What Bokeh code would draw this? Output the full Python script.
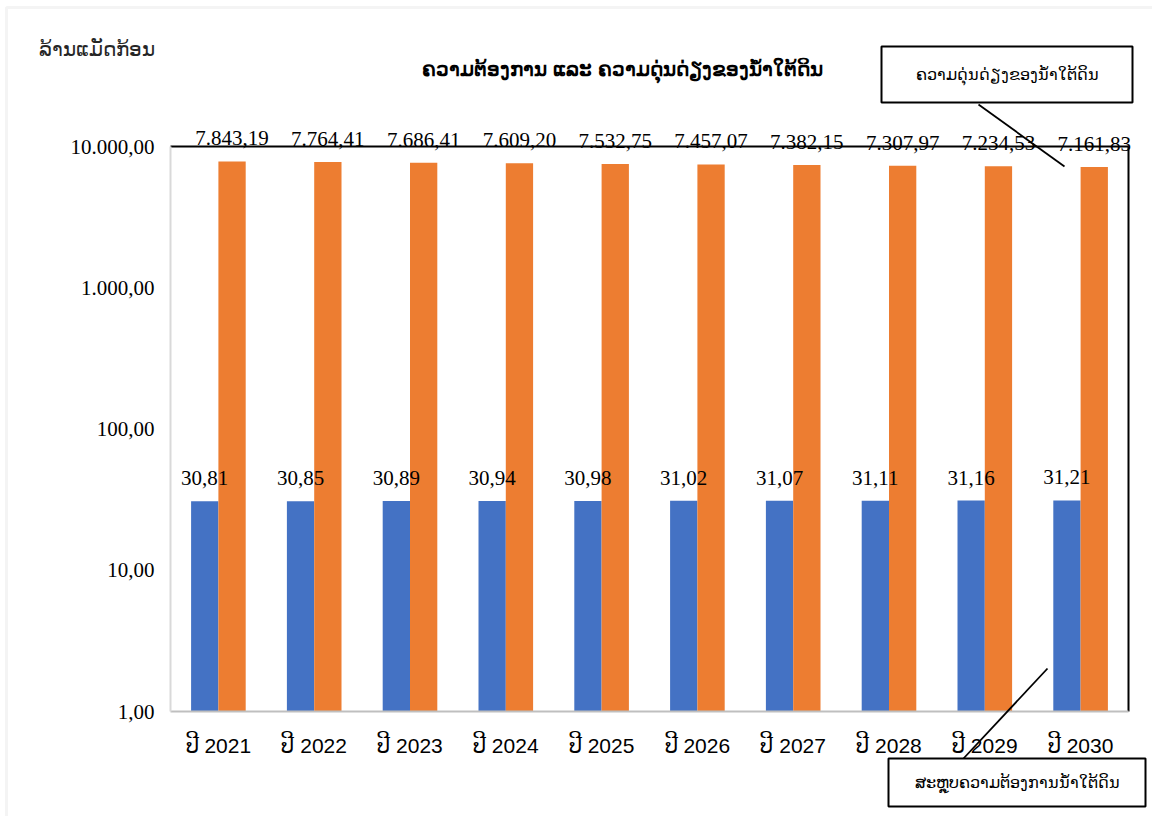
import numpy as np
from bokeh.plotting import figure
from bokeh.models import (ColumnDataSource, LabelSet, Label, FixedTicker,
                          BoxAnnotation, Arrow, Range1d)
from bokeh.core.properties import value
from bokeh.embed import file_html
from bokeh.resources import INLINE

# Groundwater demand and balance, million cubic metres
years = ["ປີ 2021", "ປີ 2022", "ປີ 2023", "ປີ 2024", "ປີ 2025",
         "ປີ 2026", "ປີ 2027", "ປີ 2028", "ປີ 2029", "ປີ 2030"]
demand = [30.81, 30.85, 30.89, 30.94, 30.98, 31.02, 31.07, 31.11, 31.16, 31.21]
balance = [7843.19, 7764.41, 7686.41, 7609.20, 7532.75,
           7457.07, 7382.15, 7307.97, 7234.53, 7161.83]
y_ticks = [1, 10, 100, 1000, 10000]
y_tick_labels = ["1,00", "10,00", "100,00", "1.000,00", "10.000,00"]

title_text = "ຄວາມຕ້ອງການ ແລະ ຄວາມດຸ່ນດ່ຽງຂອງນ້ຳໃຕ້ດິນ"
unit_text = "ລ້ານແມັດກ້ອນ"
balance_name = "ຄວາມດຸ່ນດ່ຽງຂອງນ້ຳໃຕ້ດິນ"
demand_name = "ສະຫຼຸບຄວາມຕ້ອງການນ້ຳໃຕ້ດິນ"

BLUE = "#4472C4"
ORANGE = "#ED7D31"
SERIF = "Liberation Serif"
SANS = "Liberation Sans"

W, H = 1152, 816
# plot-area edges on the page (pixels); the figure frame fills the page and
# the data ranges are stretched so the plot area lands on these edges
FL, FR, FT, FB = 170, 1128, 146, 711

n = len(years)
ymin, ymax = y_ticks[0], y_ticks[-1]
unit_px = (FR - FL) / n
decades = np.log10(ymax / ymin)
decade_px = (FB - FT) / decades
x_start = -FL / unit_px
x_end = n + (W - FR) / unit_px
y_start = ymin * 10 ** (-(H - FB) / decade_px)
y_end = ymax * 10 ** (FT / decade_px)


def sx(px):
    return px


def sy(py):
    return H - py


def fmt(v):
    s = f"{v:,.2f}"
    return s.replace(",", "#").replace(".", ",").replace("#", ".")


centers = np.arange(n) + 0.5
bw = 0.285

src = ColumnDataSource(dict(
    xb=centers - bw / 2, xo=centers + bw / 2,
    demand=demand, balance=balance,
    dlab=[fmt(v) for v in demand], blab=[fmt(v) for v in balance],
))

p = figure(width=W, height=H, y_axis_type="log", title=None,
           x_range=Range1d(x_start, x_end), y_range=Range1d(y_start, y_end),
           output_backend="svg", toolbar_location=None, min_border=0)
p.outline_line_color = None
p.grid.visible = False
p.background_fill_color = "white"
p.border_fill_color = "white"

p.vbar(x="xb", top="demand", bottom=ymin, width=bw, source=src,
       fill_color=BLUE, line_color=None)
p.vbar(x="xo", top="balance", bottom=ymin, width=bw, source=src,
       fill_color=ORANGE, line_color=None)

for col, xcol, ycol in (("dlab", "xb", "demand"), ("blab", "xo", "balance")):
    p.add_layout(LabelSet(x=xcol, y=ycol, text=col, source=src,
                          y_offset=16, text_align="center",
                          text_baseline="alphabetic",
                          text_font=value(SERIF), text_font_size="21px",
                          text_color="black"))

# axes pinned to the plot-area edges
p.yaxis.fixed_location = 0
p.yaxis.bounds = (ymin, ymax)
p.yaxis.ticker = FixedTicker(ticks=y_ticks)
p.yaxis.major_label_overrides = {t: l for t, l in zip(y_ticks, y_tick_labels)}
p.yaxis.minor_tick_line_color = None
p.yaxis.major_tick_line_color = None
p.yaxis.major_tick_out = 0
p.yaxis.major_tick_in = 0
p.yaxis.major_label_standoff = 16
p.yaxis.axis_line_color = "#d9d9d9"
p.yaxis.axis_line_width = 2
p.yaxis.major_label_text_font = SERIF
p.yaxis.major_label_text_font_size = "21px"
p.yaxis.major_label_text_color = "black"

p.xaxis.fixed_location = ymin
p.xaxis.bounds = (0, n)
p.xaxis.ticker = FixedTicker(ticks=list(centers))
p.xaxis.major_label_overrides = {float(c): y for c, y in zip(centers, years)}
p.xaxis.minor_tick_line_color = None
p.xaxis.major_tick_line_color = None
p.xaxis.major_tick_out = 0
p.xaxis.major_tick_in = 0
p.xaxis.major_label_standoff = 22
p.xaxis.axis_line_color = "#bfbfbf"
p.xaxis.axis_line_width = 2
p.xaxis.major_label_text_font = SANS
p.xaxis.major_label_text_font_size = "21px"
p.xaxis.major_label_text_color = "black"

# black plot-area edges at top and right
p.segment(x0=[0, n], y0=[ymax, ymin], x1=[n, n], y1=[ymax, ymax],
          line_color="black", line_width=2)

# outer chart border
p.add_layout(BoxAnnotation(left=sx(6), right=sx(1300), top=sy(7), bottom=sy(900),
                           left_units="screen", right_units="screen",
                           top_units="screen", bottom_units="screen",
                           fill_alpha=0, line_color="#d9d9d9", line_width=3))

# titles
p.add_layout(Label(x=sx(622), y=sy(68), x_units="screen", y_units="screen",
                   text=title_text, text_align="center", text_baseline="middle",
                   text_font=SANS, text_font_size="20px", text_font_style="bold",
                   text_color="black"))
p.add_layout(Label(x=sx(38), y=sy(48), x_units="screen", y_units="screen",
                   text=unit_text, text_align="left", text_baseline="middle",
                   text_font=SANS, text_font_size="20px", text_color="#262626"))

# callouts
for (l, r, t, b), txt, (x0, y0, x1, y1) in (
        ((881, 1132, 46, 102), balance_name, (978, 104, 1064, 166)),
        ((888, 1145, 758, 806), demand_name, (1047, 668, 963, 758))):
    p.add_layout(Arrow(x_start=sx(x0), y_start=sy(y0), x_end=sx(x1), y_end=sy(y1),
                       start_units="screen", end_units="screen", end=None,
                       line_color="black", line_width=1.8))
    p.add_layout(BoxAnnotation(left=sx(l), right=sx(r), top=sy(t), bottom=sy(b),
                               left_units="screen", right_units="screen",
                               top_units="screen", bottom_units="screen",
                               fill_color="white", fill_alpha=1,
                               line_color="black", line_alpha=1, line_width=2))
    p.add_layout(Label(x=sx((l + r) / 2), y=sy((t + b) / 2), x_units="screen",
                       y_units="screen", text=txt, text_align="center",
                       text_baseline="middle", text_font=SANS,
                       text_font_size="16px", text_color="black"))

open("out.html", "w").write(file_html(p, INLINE))
